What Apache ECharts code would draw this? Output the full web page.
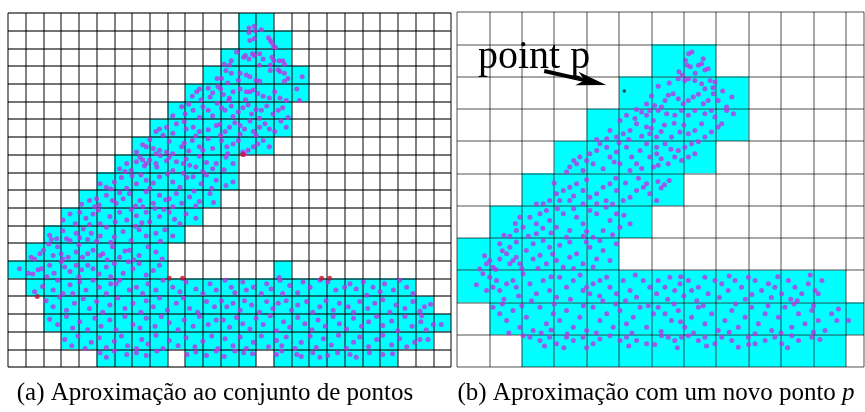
<!DOCTYPE html>
<html>
<head>
<meta charset="utf-8">
<script src="https://cdn.jsdelivr.net/npm/echarts@6/dist/echarts.min.js"></script>
<style>
  html, body { margin: 0; padding: 0; background: #ffffff; }
  #chart { width: 865px; height: 412px; }
</style>
</head>
<body>
<div id="chart"></div>
<script>
// Grid sizes (cells) of the two occupancy maps
const leftCols = 25;
const leftRows = 20;
const rightCols = 12.56;
const rightRows = 11;

// Occupied cells, as [row, firstCol, lastCol] runs
const leftCellRuns = [
  [0, 13, 14], [1, 13, 15], [2, 12, 15], [3, 11, 16], [4, 10, 16],
  [5, 9, 15], [6, 8, 15], [7, 7, 14], [8, 6, 12], [9, 5, 12],
  [10, 4, 11], [11, 3, 10], [12, 2, 9], [13, 1, 8], [14, 0, 8], [14, 15, 15],
  [15, 1, 22], [16, 2, 23], [17, 2, 24], [18, 3, 23],
  [19, 5, 8], [19, 10, 13], [19, 15, 21]
];
const rightCellRuns = [
  [1, 6, 7], [2, 5, 8], [3, 4, 8], [4, 3, 7], [5, 2, 6],
  [6, 1, 5], [7, 0, 4], [8, 0, 11], [9, 1, 12], [10, 2, 11]
];

// Sample points, in cell units (x = column, y = row from the top)
const leftBandPoints = [
  [13.6,0.85],[13.9,0.75],[14.3,0.95],
  [13.6,1.1],[13.65,1.55],[13.9,1.45],[14.7,1.4],[14.8,1.55],[14.9,1.7],[15.0,1.9],[13.95,1.0],[15.1,1.95],
  [12.9,2.2],[12.6,2.7],[13.3,2.5],[13.4,2.4],[13.6,2.6],[13.8,2.3],[13.9,2.4],[14.2,2.3],[14.4,2.6],[14.9,2.5],[15.0,2.7],[15.3,2.7],[15.5,2.7],[15.6,2.9],[14.8,2.95],[14.2,2.95],[12.5,2.95],[12.2,2.9],
  [11.8,3.7],[12.3,3.25],[12.6,3.4],[13.1,3.4],[13.45,3.5],[13.65,3.6],[14.0,3.8],[14.2,3.85],[14.8,3.25],[15.25,3.2],[15.35,3.3],[15.6,3.4],[15.8,3.7],[15.6,3.85],[16.6,3.6],[13.0,3.8],[12.4,3.95],[12.05,3.7],
  [10.4,4.7],[10.65,4.45],[10.8,4.3],[11.3,4.25],[11.55,4.5],[11.85,4.15],[11.4,4.75],[10.9,4.9],[12.0,4.3],[12.15,4.6],[12.5,4.8],[12.7,4.45],[13.1,4.3],[13.45,4.45],[13.65,4.45],[13.85,4.35],[14.1,4.55],[14.4,4.7],[14.75,4.8],[15.05,4.45],[15.35,4.8],[15.7,4.95],[16.3,4.3],[16.45,4.95],[12.45,4.95],[13.4,4.9],
  [9.3,5.8],[9.8,5.3],[10.0,5.7],[10.45,5.5],[11.0,5.3],[11.3,5.5],[11.55,5.8],[10.8,5.9],[12.05,5.35],[12.25,5.5],[12.6,5.25],[13.0,5.6],[13.25,5.35],[13.55,5.2],[13.75,5.7],[14.0,5.45],[14.3,5.5],[14.6,5.25],[14.95,5.7],[15.25,5.5],[15.5,5.35],[15.8,5.9],[12.7,5.85],[14.2,5.95],[10.2,5.15],[11.8,5.1],
  [8.35,6.7],[8.55,6.55],[8.75,6.9],[8.95,6.45],[9.5,6.25],[9.95,6.15],[10.05,6.55],[10.45,6.45],[10.8,6.7],[11.3,6.6],[11.75,6.35],[11.95,6.3],[12.25,6.7],[12.5,6.45],[12.8,6.2],[13.1,6.35],[13.35,6.55],[13.65,6.1],[13.85,6.7],[14.2,6.45],[14.5,6.25],[14.75,6.55],[15.05,6.7],[15.4,6.1],[15.7,6.45],[13.1,6.85],[14.0,6.9],[9.3,6.8],[10.6,6.95],[12.0,6.9],
  [7.25,7.85],[7.6,7.45],[7.8,7.55],[8.2,7.65],[8.35,7.95],[8.55,7.75],[8.95,7.85],[9.3,7.95],[9.8,7.55],[9.95,7.35],[10.4,7.2],[10.8,7.55],[11.0,7.75],[11.55,7.65],[11.3,7.1],[12.05,7.2],[12.35,7.55],[12.7,7.4],[13.0,7.2],[13.25,7.85],[13.55,7.75],[13.85,7.55],[14.1,7.4],[14.4,7.2],[14.75,7.55],[12.4,7.95],[13.35,7.98],[8.0,7.15],[9.1,7.25],[10.2,7.8],
  [6.3,8.8],[6.7,8.5],[6.95,8.9],[7.25,8.4],[7.45,8.15],[7.6,8.3],[7.7,8.65],[7.8,8.5],[8.0,8.3],[8.35,8.5],[8.4,8.7],[8.95,8.35],[9.1,8.15],[9.5,8.4],[9.9,8.5],[10.05,8.25],[10.25,8.6],[10.6,8.7],[10.8,8.1],[11.2,8.45],[11.55,8.8],[11.75,8.5],[12.3,8.15],[12.7,8.5],[12.2,8.85],[6.6,8.95],[9.3,8.9],[11.0,8.95],[8.6,8.05],
  [5.2,9.65],[5.55,9.85],[6.0,9.55],[6.4,9.3],[6.7,9.9],[7.0,9.2],[7.25,9.65],[7.5,9.15],[7.8,9.45],[8.2,9.6],[8.55,9.25],[9.0,9.1],[9.3,9.55],[9.7,9.85],[10.1,9.3],[10.45,9.25],[10.9,9.65],[11.2,9.15],[11.75,9.45],[12.3,9.75],[12.7,9.55],[5.8,9.95],[8.0,9.9],[9.9,9.05],[11.5,9.9],
  [4.15,10.8],[4.6,10.6],[5.0,10.5],[5.15,10.85],[5.55,10.3],[5.9,10.6],[6.1,10.75],[6.5,10.5],[6.85,10.2],[7.2,10.9],[7.45,10.6],[7.8,10.1],[8.2,10.75],[8.55,10.3],[8.9,10.55],[9.1,10.5],[9.5,10.2],[9.8,10.75],[10.25,10.4],[10.5,10.05],[10.8,10.65],[11.4,10.2],[11.6,10.7],[4.9,10.95],[6.3,10.15],[7.6,10.95],[9.3,10.95],[10.6,10.9],
  [3.1,11.7],[3.5,11.35],[3.8,11.9],[4.05,11.25],[4.4,11.6],[4.8,11.35],[5.1,11.15],[5.2,11.9],[5.75,11.5],[6.05,11.8],[6.3,11.25],[6.7,11.7],[6.95,11.1],[7.25,11.45],[7.55,11.85],[7.8,11.25],[8.0,11.8],[8.55,11.5],[8.8,11.1],[9.1,11.25],[9.4,11.65],[9.7,11.9],[10.05,11.35],[10.6,11.6],[4.6,11.95],[8.3,11.05],
  [2.35,12.55],[2.45,12.8],[2.75,12.75],[3.1,12.3],[3.3,12.75],[3.5,12.85],[3.85,12.45],[4.05,12.7],[4.25,12.2],[4.5,12.8],[4.7,12.45],[5.0,12.9],[5.2,12.6],[5.55,12.1],[6.0,12.65],[6.5,12.35],[6.95,12.85],[7.4,12.25],[7.8,12.6],[8.35,12.45],[8.85,12.25],[9.3,12.6],[5.8,12.95],[7.2,12.05],[8.6,12.9],
  [1.3,13.8],[1.5,13.9],[1.8,13.6],[2.0,13.4],[2.55,13.7],[2.8,13.2],[3.0,13.6],[3.1,13.9],[3.4,13.8],[3.85,13.5],[4.2,13.8],[4.5,13.6],[4.8,13.4],[5.2,13.7],[5.35,13.6],[5.9,13.2],[6.3,13.8],[6.6,13.45],[6.85,13.4],[7.4,13.7],[7.9,13.2],[8.35,13.5],[8.7,13.9],[2.3,13.05],[4.0,13.1],[5.6,13.95],[7.1,13.95],
  [0.65,14.45],[1.15,14.7],[1.4,14.75],[1.7,14.5],[1.9,14.45],[2.35,14.25],[2.6,14.7],[3.0,14.05],[3.2,14.35],[3.5,14.6],[3.85,14.25],[4.15,14.5],[4.5,14.25],[4.8,14.45],[5.15,14.75],[5.55,14.35],[5.8,14.9],[6.0,14.15],[6.5,14.7],[7.05,14.45],[7.4,14.15],[7.8,14.8],[8.2,14.55],[8.55,14.25],[2.2,14.9],[4.0,14.9],[6.8,14.05],[15.3,14.95]
];
const leftBasePoints = [
  [1.5,15.75],[1.95,15.45],[2.55,15.65],[2.8,15.1],[3.1,15.85],[3.5,15.35],[3.65,15.85],[4.05,15.2],[4.4,15.65],[4.8,15.1],[5.15,15.5],[5.55,15.85],[5.8,15.3],[6.1,15.3],[6.3,15.1],[6.85,15.65],[7.25,15.5],[7.6,15.85],[7.9,15.3],[8.35,15.65],[8.75,15.1],[9.3,15.5],[9.7,15.75],[10.05,15.2],[10.6,15.6],[11.0,15.85],[11.4,15.3],[11.75,15.65],[12.25,15.1],[12.6,15.5],[12.8,15.8],[13.25,15.2],[13.45,15.65],[13.85,15.5],[14.3,15.85],[14.6,15.3],[14.85,15.6],[15.35,15.1],[15.5,15.85],[15.9,15.4],[16.35,15.8],[16.65,15.2],[17.05,15.5],[17.6,15.1],[18.05,15.2],[18.5,15.65],[19.0,15.5],[19.3,15.3],[19.65,15.6],[20.05,15.2],[20.25,15.95],[20.6,15.5],[21.0,15.75],[21.25,15.3],[21.75,15.65],[22.1,15.1],[22.5,15.5],[22.85,15.85],
  [2.15,16.25],[2.55,16.6],[2.9,16.05],[3.3,16.8],[3.75,16.4],[4.25,16.15],[4.6,16.7],[5.0,16.3],[5.35,16.9],[5.75,16.5],[6.2,16.1],[6.6,16.7],[7.05,16.4],[7.5,16.9],[7.8,16.25],[8.2,16.6],[8.55,16.1],[9.0,16.8],[9.5,16.4],[9.9,16.1],[10.25,16.7],[10.7,16.9],[11.2,16.3],[11.65,16.6],[12.05,16.25],[12.35,16.6],[12.7,16.4],[13.1,16.8],[13.35,16.25],[13.75,16.5],[14.2,16.9],[14.6,16.3],[14.95,16.7],[15.25,16.4],[15.7,16.25],[16.0,16.8],[16.35,16.5],[16.85,16.3],[17.2,16.9],[17.6,16.6],[17.95,16.25],[18.35,16.8],[18.7,16.4],[19.2,16.6],[19.5,16.9],[19.85,16.3],[20.3,16.7],[20.7,16.4],[21.15,16.2],[21.55,16.9],[21.9,16.5],[22.4,16.7],[22.85,16.3],[23.25,16.85],[23.5,16.6],[23.85,16.45],
  [2.35,17.3],[2.8,17.6],[3.3,17.15],[3.65,17.8],[4.05,17.45],[4.5,17.9],[4.9,17.25],[5.25,17.7],[5.75,17.35],[6.1,17.9],[6.6,17.15],[7.05,17.6],[7.45,17.8],[7.8,17.25],[8.3,17.7],[8.65,17.15],[9.1,17.5],[9.6,17.9],[9.95,17.35],[10.45,17.7],[10.8,17.15],[11.3,17.6],[11.75,17.35],[12.15,17.35],[12.5,17.75],[12.9,17.2],[13.25,17.55],[13.65,17.85],[14.0,17.25],[14.4,17.6],[14.8,17.1],[15.15,17.95],[15.55,17.45],[15.9,17.75],[16.35,17.2],[16.75,17.55],[17.15,17.9],[17.5,17.35],[17.9,17.7],[18.35,17.15],[18.7,17.55],[19.1,17.85],[19.5,17.25],[19.95,17.7],[20.35,17.45],[20.8,17.15],[21.15,17.65],[21.65,17.4],[22.0,17.95],[22.4,17.15],[22.8,17.7],[23.35,17.1],[23.3,17.45],[24.0,17.6],[24.45,17.6],[23.6,17.9],
  [3.2,18.45],[3.6,18.8],[3.95,18.25],[4.35,18.95],[4.7,18.6],[5.15,18.35],[5.55,18.9],[6.0,18.55],[6.4,18.25],[6.75,18.8],[7.25,18.95],[7.55,18.45],[7.9,18.7],[8.35,18.2],[8.75,18.95],[9.1,18.5],[9.6,18.8],[10.05,18.35],[10.55,18.85],[11.0,18.55],[11.5,18.25],[11.85,18.95],[12.25,18.4],[12.7,18.8],[13.1,18.3],[13.45,18.95],[13.85,18.6],[14.3,18.25],[14.7,18.85],[15.15,18.5],[15.45,18.8],[15.7,18.3],[16.2,18.95],[16.55,18.6],[17.05,18.25],[17.4,18.9],[17.8,18.4],[18.25,18.75],[18.65,18.2],[19.1,18.95],[19.5,18.6],[19.85,18.3],[20.35,18.85],[20.8,18.45],[21.15,18.2],[21.65,18.75],[22.1,18.4],[22.5,18.85],[22.95,18.6],[23.25,18.45],[23.7,18.45],
  [5.2,19.2],[5.55,19.45],[6.0,19.1],[6.7,19.3],[7.25,19.2],[7.8,19.35],[8.4,19.1],[10.1,19.3],[10.6,19.15],[11.2,19.35],[11.75,19.1],[12.2,19.4],[12.8,19.1],[13.3,19.2],[13.8,19.25],[15.15,19.3],[15.45,19.1],[16.3,19.3],[16.55,19.4],[17.2,19.2],[17.6,19.45],[18.05,19.35],[18.6,19.2],[19.3,19.3],[19.65,19.45],[20.4,19.2],[21.15,19.3],[21.7,19.25]
];
// Points lying on cell borders, drawn in red
const leftBorderPoints = [[9.1,14.98],[9.85,14.98],[17.7,14.98],[18.15,14.98],[1.65,16.02],[13.25,7.99]];

const rightBandPoints = [
  [7.15,1.29],[7.25,1.24],[7.05,1.5],[7.1,1.65],[7.2,1.7],[7.45,1.65],[7.55,1.6],[7.65,1.8],[7.75,1.76],[6.95,1.96],[7.35,1.9],[6.85,1.85],[7.6,1.45],
  [6.83,2.07],[7.03,2.12],[7.14,2.07],[7.34,2.12],[7.55,2.22],[7.65,2.38],[7.81,2.12],[7.96,2.17],[8.48,2.63],[8.06,2.74],[7.91,2.53],[7.75,2.74],[7.6,2.84],[7.45,2.55],[7.29,2.63],[7.14,2.74],[6.98,2.84],[6.83,2.69],[6.67,2.53],[6.52,2.58],[6.42,2.74],[6.31,2.94],[8.32,2.94],[6.21,2.3],[6.0,2.6],[5.85,2.85],[6.55,2.2],[7.9,2.35],[8.2,2.45],[6.1,2.9],
  [5.54,3.02],[5.7,3.1],[5.85,3.2],[5.95,3.05],[6.06,3.36],[5.54,3.46],[5.34,3.67],[5.13,3.77],[4.92,3.87],[4.62,3.93],[4.72,3.67],[5.03,3.36],[5.23,3.2],[5.49,3.3],[5.85,3.56],[5.95,3.77],[6.16,3.87],[4.31,3.95],[6.21,3.05],[6.47,3.15],[6.72,3.2],[6.93,3.05],[7.14,3.2],[7.34,3.05],[7.65,3.15],[7.85,3.05],[7.96,3.25],[8.17,3.46],[8.06,3.56],[7.85,3.72],[7.65,3.87],[7.34,3.67],[7.55,3.46],[6.88,3.72],[7.14,3.77],[6.62,3.87],[8.53,3.15],[8.32,3.05],[6.4,3.5],[6.7,3.45],[7.0,3.5],[5.3,3.95],[6.3,3.7],[5.7,3.85],[6.0,3.6],
  [3.48,4.8],[3.69,4.7],[3.79,4.49],[4.0,4.6],[4.1,4.39],[4.31,4.29],[4.41,4.08],[4.62,4.19],[4.72,4.49],[4.92,4.34],[5.03,4.7],[5.23,4.19],[5.39,4.49],[5.54,4.7],[5.65,4.29],[5.85,4.08],[5.95,4.49],[6.06,4.8],[6.16,4.19],[3.89,4.91],[3.38,4.96],[4.51,4.86],[5.34,4.91],[7.45,4.02],[7.24,4.08],[7.03,4.19],[6.83,4.29],[6.72,4.49],[6.52,4.7],[6.21,4.75],[6.16,4.39],[6.42,4.08],[7.34,4.39],[7.14,4.49],[6.93,4.6],[4.2,4.7],[5.0,4.05],[5.7,4.85],[6.6,4.25],[4.85,4.65],[6.3,4.55],[3.6,4.6],
  [2.66,5.94],[2.86,5.84],[3.07,5.63],[3.28,5.53],[3.48,5.43],[3.69,5.32],[3.89,5.53],[4.1,5.74],[4.31,5.63],[4.51,5.43],[4.72,5.32],[4.92,5.53],[5.13,5.84],[5.34,5.74],[5.54,5.53],[5.75,5.43],[5.95,5.63],[5.85,5.32],[6.16,5.84],[4.31,5.94],[3.89,5.94],[3.48,5.84],[3.17,5.84],[6.2,5.25],[6.4,5.35],[6.55,5.22],[6.3,5.45],[2.45,5.95],[3.0,5.3],[4.0,5.2],[4.9,5.15],[5.6,5.15],[4.6,5.85],[5.2,5.3],[3.6,5.7],[4.8,5.95],
  [1.83,6.77],[2.04,6.67],[1.63,6.95],[2.25,6.36],[2.45,6.56],[2.56,6.25],[2.76,6.15],[2.86,6.46],[3.07,6.67],[3.28,6.25],[3.48,6.77],[3.69,6.36],[3.89,6.56],[4.1,6.15],[4.31,6.25],[4.51,6.77],[4.72,6.46],[4.92,6.25],[5.03,6.67],[5.34,6.56],[1.94,6.36],[2.45,6.87],[3.38,6.98],[4.2,6.98],[1.45,6.92],[2.9,6.85],[3.1,6.1],[3.9,6.95],[4.6,6.05],[2.2,6.95],[3.6,6.1],[4.0,6.8],[5.15,6.3],[1.8,6.55],[2.65,6.7],[4.8,6.9],
  [0.7,7.96],[0.91,7.8],[1.01,7.7],[1.11,7.91],[1.32,7.65],[1.53,7.49],[1.63,7.8],[1.73,7.7],[1.83,7.6],[1.94,7.8],[2.14,7.39],[2.35,7.65],[2.56,7.54],[2.76,7.8],[2.86,7.29],[3.07,7.7],[3.28,7.91],[3.48,7.6],[3.69,7.49],[3.89,7.8],[4.1,7.29],[4.31,7.65],[4.51,7.39],[4.72,7.7],[4.92,7.18],[1.32,7.18],[1.63,7.29],[1.83,7.13],[2.35,7.18],[2.66,7.08],[3.17,7.23],[3.48,7.13],[3.99,7.13],[4.41,7.08],[1.2,7.98],[2.0,7.95],[0.85,7.55],[2.5,7.95],[3.6,7.95],[4.2,7.9],[1.4,7.4],[2.95,7.5]
];
const rightBasePoints = [
  [0.8,8.11],[1.01,8.22],[1.22,8.32],[1.11,8.53],[0.91,8.63],[1.32,8.63],[1.53,8.42],[1.73,8.32],[1.83,8.53],[2.04,8.11],[2.25,8.42],[2.45,8.73],[2.66,8.32],[2.86,8.63],[3.07,8.84],[3.17,8.22],[3.38,8.53],[3.59,8.32],[3.89,8.63],[4.0,8.53],[4.1,8.73],[4.2,8.42],[4.41,8.32],[4.62,8.22],[4.72,8.53],[4.92,8.73],[5.13,8.32],[5.34,8.63],[5.54,8.84],[5.75,8.32],[5.95,8.53],[6.16,8.73],[6.21,8.32],[6.42,8.53],[6.57,8.22],[6.72,8.63],[6.88,8.42],[7.14,8.32],[7.24,8.63],[7.45,8.53],[7.65,8.22],[7.75,8.73],[7.96,8.32],[8.17,8.42],[8.37,8.63],[8.58,8.32],[8.78,8.53],[8.99,8.22],[9.2,8.32],[9.4,8.63],[9.61,8.42],[9.81,8.53],[10.02,8.73],[10.23,8.32],[10.43,8.53],[10.64,8.73],[10.84,8.42],[11.05,8.63],[11.26,8.32],[11.15,8.73],[0.6,8.45],[1.45,8.9],[2.3,8.95],[3.5,8.9],[4.5,8.95],[5.2,8.95],[6.5,8.9],[7.4,8.95],[8.1,8.85],[8.9,8.9],[9.7,8.85],[10.5,8.95],[2.9,8.2],[3.8,8.15],[5.5,8.15],[6.9,8.2],[8.4,8.18],[9.9,8.2],[10.9,8.15],[1.9,8.8],[4.4,8.8],[7.0,8.8],[9.1,8.75],[10.3,8.9],
  [1.11,9.15],[1.32,9.35],[1.53,9.56],[1.73,9.25],[1.94,9.77],[2.14,9.46],[2.35,9.87],[2.56,9.15],[2.76,9.66],[2.97,9.35],[3.17,9.56],[3.38,9.25],[3.59,9.77],[3.79,9.46],[4.0,9.87],[4.2,9.15],[4.41,9.56],[4.62,9.35],[4.82,9.77],[5.03,9.25],[5.23,9.66],[5.44,9.46],[5.65,9.15],[5.85,9.77],[6.06,9.35],[6.21,9.15],[6.42,9.35],[6.62,9.56],[6.83,9.25],[7.03,9.77],[7.24,9.46],[7.45,9.15],[7.65,9.66],[7.86,9.35],[8.06,9.87],[8.27,9.56],[8.48,9.25],[8.68,9.77],[8.89,9.46],[9.09,9.15],[9.3,9.66],[9.51,9.35],[9.71,9.87],[9.92,9.46],[10.12,9.15],[10.33,9.77],[10.54,9.35],[10.74,9.66],[10.95,9.25],[11.15,9.56],[11.36,9.87],[11.56,9.35],[11.77,9.2],[11.72,9.56],[12.08,9.56],[1.4,9.05],[2.0,9.1],[3.0,9.05],[3.9,9.1],[4.9,9.05],[5.9,9.1],[6.7,9.05],[7.6,9.1],[8.6,9.05],[9.6,9.1],[10.4,9.05],[11.0,9.1],[1.6,9.95],[2.6,9.95],[3.4,9.98],[4.3,9.95],[5.4,9.95],[6.3,9.9],[7.3,9.95],[8.4,9.92],[9.2,9.97],[10.0,9.95],[11.0,9.92],[2.9,9.85],[6.9,9.6],
  [2.04,10.03],[2.25,10.08],[2.56,10.18],[2.86,10.08],[3.07,10.28],[3.38,10.08],[3.59,10.18],[3.89,10.08],[4.2,10.28],[4.41,10.13],[4.72,10.03],[5.03,10.18],[5.23,10.08],[5.54,10.18],[5.85,10.28],[6.31,10.03],[6.52,10.08],[6.72,10.18],[6.93,10.08],[7.14,10.03],[7.45,10.18],[7.65,10.08],[7.96,10.28],[8.17,10.08],[8.48,10.18],[8.68,10.39],[8.99,10.08],[9.2,10.28],[9.51,10.18],[9.81,10.08],[10.02,10.28],[10.33,10.03],[10.54,10.18],[10.95,10.08],[11.2,10.15],[2.7,10.35],[4.0,10.4],[5.3,10.35],[6.8,10.4],[7.7,10.35],[9.0,10.3],[10.2,10.4],[3.3,10.4],[6.1,10.3]
];
// The newly added point
const pointP = [5.16, 2.45];

// Texts
const captionA = '(a) Aproximação ao conjunto de pontos';
const captionB = '(b) Aproximação com um novo ponto {i|p}';
const pointLabel = 'point p';

// Expand [row, from, to] runs into [col, row] cells
function expandRuns(runs) {
  const cells = [];
  runs.forEach(([row, from, to]) => {
    for (let c = from; c <= to; c++) cells.push([c, row]);
  });
  return cells;
}

const chart = echarts.init(document.getElementById('chart'), null, { renderer: 'canvas' });

const cellColor = '#00ffff';
const dotColor = '#bd33e4';

function cellSeries(gridIndex, runs) {
  return {
    type: 'custom',
    xAxisIndex: gridIndex,
    yAxisIndex: gridIndex,
    z: 1,
    silent: true,
    clip: true,
    encode: { x: 0, y: 1 },
    data: expandRuns(runs),
    renderItem(params, api) {
      const p = api.coord([api.value(0), api.value(1)]);
      const s = api.size([1, 1]);
      return {
        type: 'rect',
        shape: { x: p[0], y: p[1], width: s[0], height: s[1] },
        style: { fill: cellColor }
      };
    }
  };
}

function dotSeries(gridIndex, data, color, size) {
  return {
    type: 'scatter',
    xAxisIndex: gridIndex,
    yAxisIndex: gridIndex,
    z: 5,
    silent: true,
    symbol: 'circle',
    symbolSize: size,
    itemStyle: { color: color },
    data: data
  };
}

function axisPair(max, lineColor, lineWidth, inverse) {
  return {
    type: 'value',
    min: 0,
    max: max,
    interval: 1,
    inverse: inverse,
    z: 3,
    axisLine: { show: false },
    axisTick: { show: false },
    axisLabel: { show: false },
    splitLine: { show: true, lineStyle: { color: lineColor, width: lineWidth } }
  };
}

const leftLine = 'rgba(0,0,0,0.55)';
const rightLine = 'rgba(0,0,0,0.34)';

chart.setOption({
  animation: false,
  backgroundColor: '#ffffff',
  grid: [
    { left: 8, top: 13, width: 443, height: 354 },
    { left: 457, top: 12, width: 407, height: 355 }
  ],
  xAxis: [
    Object.assign(axisPair(leftCols, leftLine, 1.8, false), { gridIndex: 0 }),
    Object.assign(axisPair(rightCols, rightLine, 2, false), { gridIndex: 1 })
  ],
  yAxis: [
    Object.assign(axisPair(leftRows, leftLine, 1.8, true), { gridIndex: 0 }),
    Object.assign(axisPair(rightRows, rightLine, 2, true), { gridIndex: 1 })
  ],
  series: [
    cellSeries(0, leftCellRuns),
    cellSeries(1, rightCellRuns),
    dotSeries(0, leftBandPoints.concat(leftBasePoints), dotColor, 5),
    dotSeries(0, leftBorderPoints, '#c8102e', 5),
    dotSeries(1, rightBandPoints.concat(rightBasePoints), dotColor, 5),
    dotSeries(1, [pointP], '#111111', 3.5)
  ]
});

// Annotation arrow aimed at point p, plus the captions
const pPix = chart.convertToPixel({ gridIndex: 1 }, pointP);
const tip = [pPix[0] - 18, pPix[1] - 6];
const tail = [tip[0] - 62, tip[1] - 14];
const ang = Math.atan2(tip[1] - tail[1], tip[0] - tail[0]);
function rot(dx, dy) {
  return [tip[0] + dx * Math.cos(ang) - dy * Math.sin(ang), tip[1] + dx * Math.sin(ang) + dy * Math.cos(ang)];
}

chart.setOption({
  graphic: [
    {
      type: 'line', z: 20,
      shape: { x1: tail[0], y1: tail[1], x2: rot(-20, 0)[0], y2: rot(-20, 0)[1] },
      style: { stroke: '#000000', lineWidth: 4 }
    },
    {
      type: 'polygon', z: 20,
      shape: { points: [tip, rot(-30, -7), rot(-22, 0), rot(-30, 7)] },
      style: { fill: '#000000' }
    },
    {
      type: 'text', z: 20, x: 478, y: 57,
      style: {
        text: pointLabel, fill: '#000000',
        font: '40px "Liberation Serif", "Times New Roman", serif',
        verticalAlign: 'middle', align: 'left'
      }
    },
    {
      type: 'text', x: 215, y: 393,
      style: {
        text: captionA, fill: '#000000',
        font: '25px "Liberation Serif", "Times New Roman", serif',
        align: 'center', verticalAlign: 'middle'
      }
    },
    {
      type: 'text', x: 656, y: 393,
      style: {
        text: captionB, fill: '#000000',
        font: '25px "Liberation Serif", "Times New Roman", serif',
        align: 'center', verticalAlign: 'middle',
        rich: { i: { fontStyle: 'italic', fontSize: 25, fontFamily: '"Liberation Serif", serif' } }
      }
    }
  ]
});
</script>
</body>
</html>
